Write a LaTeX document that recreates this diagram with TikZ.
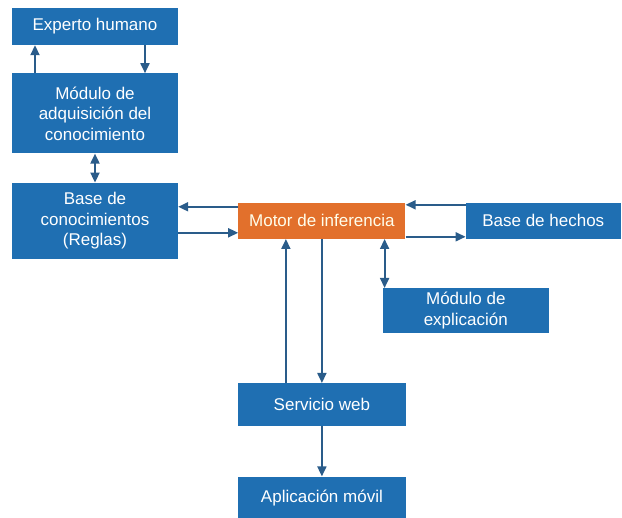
\documentclass[tikz,border=0pt]{standalone}
\usepackage{fontspec}
\setsansfont{Liberation Sans}
\usetikzlibrary{positioning, arrows.meta, calc}
\definecolor{sebox}{RGB}{31,111,178}
\definecolor{semotor}{RGB}{226,112,44}
\definecolor{seline}{RGB}{42,92,138}

\begin{document}
\begin{tikzpicture}[
  x=1pt, y=1pt,
  box/.style={fill=sebox, minimum width=166pt, inner sep=2pt, font=\sffamily\fontsize{17}{20.5}\selectfont, text=white, align=center},
  motorbox/.style={box, fill=semotor, text=white!92!yellow},
  arrow/.style={-{Triangle[length=10pt, width=9pt]}, line width=1.8pt, seline},
  dblarrow/.style={{Triangle[length=10pt, width=9pt]}-{Triangle[length=10pt, width=9pt]}, line width=1.8pt, seline}
]
  \useasboundingbox (0,0) rectangle (622,-518);

  \node[box, minimum height=37pt] (expert) at (95,-26.5) {Experto humano};
  \node[box, minimum height=80pt, below=28pt of expert] (adq) {Módulo de\\adquisición del\\conocimiento};
  \node[box, minimum height=76pt, below=29pt of adq] (base) {Base de\\conocimientos\\(Reglas)};
  \node[motorbox, minimum width=167pt, minimum height=36pt, right=60pt of base] (motor) {Motor de inferencia};
  \node[box, minimum width=155pt, minimum height=36pt, right=60pt of motor] (hechos) {Base de hechos};
  \node[box, minimum height=45pt, below=49pt of motor.south east, anchor=north west, xshift=-23pt] (expl) {Módulo de\\explicación};
  \node[box, minimum width=168pt, minimum height=43pt, below=144pt of motor] (web) {Servicio web};
  \node[box, minimum width=168pt, minimum height=43pt, below=50pt of web] (app) {Aplicación móvil};

  % experto <-> adquisicion
  \draw[arrow] ([xshift=-60pt]adq.north) -- ([xshift=-60pt]expert.south);
  \draw[arrow] ([xshift=50pt]expert.south) -- ([xshift=50pt]adq.north);
  \draw[dblarrow] (adq.south) -- (base.north);

  % motor con bases
  \draw[arrow] ([yshift=14pt]motor.west) -- ([yshift=14pt]base.east);
  \draw[arrow] ([yshift=-12pt]base.east) -- ([yshift=-12pt]motor.west);
  \draw[arrow] ([yshift=16pt]hechos.west) -- ([yshift=16pt]motor.east);
  \draw[arrow] ([yshift=-16pt]motor.east) -- ([yshift=-16pt]hechos.west);
  \draw[dblarrow] ([xshift=2pt]expl.north west) -- ([xshift=2pt]expl.north west |- motor.south);

  % servicio web
  \draw[arrow] ([xshift=-36pt]web.north) -- ([xshift=-36pt]motor.south);
  \draw[arrow] (motor.south) -- (web.north);
  \draw[arrow] (web.south) -- (app.north);
\end{tikzpicture}
\end{document}
